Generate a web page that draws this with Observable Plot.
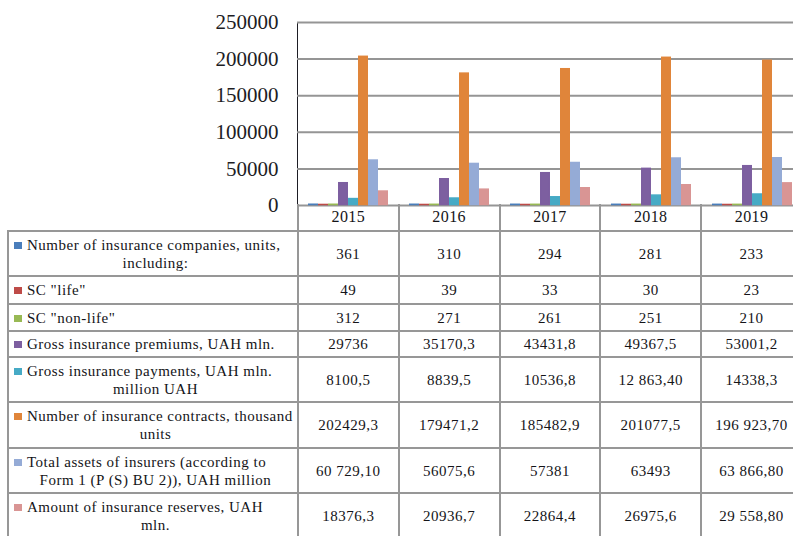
<!DOCTYPE html>
<html><head><meta charset="utf-8">
<script src="https://cdn.jsdelivr.net/npm/d3@7"></script>
<script src="https://cdn.jsdelivr.net/npm/@observablehq/plot@0.6"></script>
<style>
html,body{margin:0;padding:0;overflow:hidden;background:#fff;}
#wrap{position:relative;width:803px;height:540px;overflow:hidden;font-family:"Liberation Serif","Times New Roman",serif;}
#chart{position:absolute;left:0;top:0;}
table{position:absolute;left:7px;top:204px;border-collapse:collapse;table-layout:fixed;font-family:"Liberation Serif",serif;font-size:15px;color:#141418;letter-spacing:0.5px;}
td{border:2px solid #979797;padding:0;text-align:center;vertical-align:middle;line-height:18px;white-space:nowrap;}
td.corner{border-top:none;border-left:none;}
td.yr{border-top:none;font-size:16px;letter-spacing:0.4px;}
td.lab{text-align:left;padding-left:5px;letter-spacing:0.5px;}
.l2{text-align:center;}
.sw{display:inline-block;width:8px;height:7px;margin-right:5px;vertical-align:1px;}
</style></head>
<body><div id="wrap"><div id="chart"></div></div>
<script>
const years = ["2015", "2016", "2017", "2018", "2019"];
const seriesKeys = ["companies", "life", "nonLife", "premiums", "payments", "contracts", "assets", "reserves"];
const labelLine1 = [
  "Number of insurance companies, units,",
  "SC \"life\"",
  "SC \"non-life\"",
  "Gross insurance premiums, UAH mln.",
  "Gross insurance payments, UAH mln.",
  "Number of insurance contracts, thousand",
  "Total assets of insurers (according to",
  "Amount of insurance reserves, UAH"
];
const labelLine2 = ["including:", "", "", "", "million UAH", "units", "Form 1 (P (S) BU 2)), UAH million", "mln."];
const colors = ["#4a7ebb", "#be4b48", "#98b954", "#7d5fa0", "#46aac5", "#e0853a", "#95abd6", "#d99594"];

const companies = [361, 310, 294, 281, 233];
const life = [49, 39, 33, 30, 23];
const nonLife = [312, 271, 261, 251, 210];
const premiums = [29736, 35170.3, 43431.8, 49367.5, 53001.2];
const payments = [8100.5, 8839.5, 10536.8, 12863.4, 14338.3];
const contracts = [202429.3, 179471.2, 185482.9, 201077.5, 196923.7];
const assets = [60729.1, 56075.6, 57381, 63493, 63866.8];
const reserves = [18376.3, 20936.7, 22864.4, 26975.6, 29558.8];
const seriesValues = [companies, life, nonLife, premiums, payments, contracts, assets, reserves];

const companiesText = ["361", "310", "294", "281", "233"];
const lifeText = ["49", "39", "33", "30", "23"];
const nonLifeText = ["312", "271", "261", "251", "210"];
const premiumsText = ["29736", "35170,3", "43431,8", "49367,5", "53001,2"];
const paymentsText = ["8100,5", "8839,5", "10536,8", "12 863,40", "14338,3"];
const contractsText = ["202429,3", "179471,2", "185482,9", "201077,5", "196 923,70"];
const assetsText = ["60 729,10", "56075,6", "57381", "63493", "63 866,80"];
const reservesText = ["18376,3", "20936,7", "22864,4", "26975,6", "29 558,80"];
const seriesText = [companiesText, lifeText, nonLifeText, premiumsText, paymentsText, contractsText, assetsText, reservesText];

const yTicks = [0, 50000, 100000, 150000, 200000, 250000];

const data = [];
seriesKeys.forEach((k, si) => years.forEach((y, yi) => data.push({year: y, series: k, value: seriesValues[si][yi]})));

const chart = Plot.plot({
  width: 803, height: 206,
  marginTop: 22, marginBottom: 1, marginLeft: 297, marginRight: 1,
  style: {fontFamily: "Liberation Serif", fontSize: "21px", color: "#1d1d24", background: "transparent", overflow: "visible"},
  fx: {domain: years, padding: 0, axis: null},
  x: {domain: seriesKeys, paddingInner: 0, paddingOuter: 0.81, axis: null},
  y: {domain: [0, 250000], ticks: yTicks, tickSize: 0, tickPadding: 19, tickFormat: d => String(d), label: null, line: true},
  color: {domain: seriesKeys, range: colors},
  marks: [
    Plot.ruleY(yTicks, {stroke: "#959595", strokeWidth: 2}),
    Plot.barY(data, {fx: "year", x: "series", y: "value", fill: "series", stroke: "series", strokeWidth: 1.5, insetLeft: 0.75, insetRight: 0.75, dy: -0.5})
  ]
});
document.getElementById("chart").appendChild(chart);

// data table below the plot
const table = document.createElement("table");
const colgroup = document.createElement("colgroup");
[290, 101, 101, 101, 101, 101].forEach(w => {
  const c = document.createElement("col"); c.style.width = w + "px"; colgroup.appendChild(c);
});
table.appendChild(colgroup);
const rowHeights = [27, 45, 28, 27, 26, 45, 46, 45, 46];
const head = document.createElement("tr");
head.style.height = rowHeights[0] + "px";
const corner = document.createElement("td"); corner.className = "corner"; head.appendChild(corner);
years.forEach(y => { const td = document.createElement("td"); td.className = "yr"; td.textContent = y; head.appendChild(td); });
table.appendChild(head);
seriesKeys.forEach((k, si) => {
  const tr = document.createElement("tr");
  tr.style.height = rowHeights[si + 1] + "px";
  const lab = document.createElement("td"); lab.className = "lab";
  const d1 = document.createElement("div");
  const sw = document.createElement("span"); sw.className = "sw"; sw.style.background = colors[si];
  d1.appendChild(sw); d1.appendChild(document.createTextNode(labelLine1[si]));
  lab.appendChild(d1);
  if (labelLine2[si]) { const d2 = document.createElement("div"); d2.className = "l2"; d2.textContent = labelLine2[si]; lab.appendChild(d2); }
  tr.appendChild(lab);
  seriesText[si].forEach(t => { const td = document.createElement("td"); td.textContent = t; tr.appendChild(td); });
  table.appendChild(tr);
});
document.getElementById("wrap").appendChild(table);
</script>
</body></html>
